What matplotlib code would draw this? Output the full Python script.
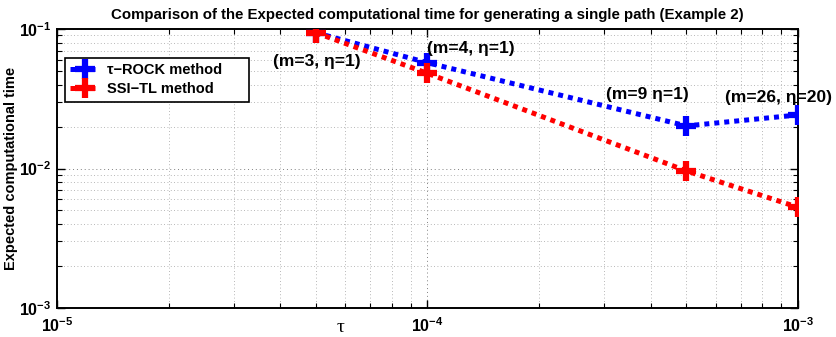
import matplotlib
matplotlib.use("Agg")
import matplotlib.pyplot as plt
from matplotlib.ticker import LogLocator, FuncFormatter, NullFormatter
from matplotlib.patches import Rectangle
import numpy as np

plt.rcParams['font.family'] = ['Liberation Sans', 'DejaVu Sans']
plt.rcParams['mathtext.fontset'] = 'custom'
plt.rcParams['mathtext.rm'] = 'Liberation Sans:bold'
plt.rcParams['mathtext.bf'] = 'Liberation Sans:bold'
plt.rcParams['mathtext.it'] = 'Liberation Sans:bold'

# Data
tau = [5e-5, 1e-4, 5e-4, 1e-3]
rock_time = [0.094, 0.0573, 0.0202, 0.0242]
ssi_time = [0.094, 0.0481, 0.0096, 0.00527]
rock_labels = ['(m=3, \u03b7=1)', '(m=4, \u03b7=1)', '(m=9 \u03b7=1)', '(m=26, \u03b7=20)']
series_names = ['\u03c4\u2212ROCK method', 'SSI\u2212TL method']
title = 'Comparison of the Expected computational time for generating a single path (Example 2)'
xlabel = '\u03c4'
ylabel = 'Expected computational time'

# Styling
label_offsets = [(-43, -29), (0, 14), (-80, 31), (-73, 17)]  # pixels

fig = plt.figure(figsize=(8.37, 3.37), dpi=100)
ax = fig.add_axes([0.0681, 0.0861, 0.9534 - 0.0681, 0.9139 - 0.0861])

common = dict(linestyle=(0, (1, 1)), linewidth=3.6, dash_capstyle='butt',
              marker='+', markersize=14, markeredgewidth=4.5)
ax.plot(tau, rock_time, color='#0000ff', label=series_names[0], zorder=3, **common)
ax.plot(tau, ssi_time, color='#ff0000', label=series_names[1], zorder=4, **common)

ax.set_xscale('log')
ax.set_yscale('log')
ax.set_xlim(1e-5, 1e-3)
ax.set_ylim(1e-3, 1e-1)

fmt = FuncFormatter(lambda v, p: r'$\mathbf{10^{%d}}$' % int(round(np.log10(v))))
ax.xaxis.set_major_locator(LogLocator(base=10, numticks=10))
ax.yaxis.set_major_locator(LogLocator(base=10, numticks=10))
ax.xaxis.set_major_formatter(fmt)
ax.yaxis.set_major_formatter(fmt)
ax.xaxis.set_minor_formatter(NullFormatter())
ax.yaxis.set_minor_formatter(NullFormatter())

ax.tick_params(which='both', direction='in', top=True, right=True, labelsize=11.5)
ax.tick_params(which='major', length=6, width=1.0)
ax.tick_params(which='minor', length=3.5, width=0.8)
ax.tick_params(axis='x', which='major', pad=6)
ax.tick_params(axis='y', which='major', pad=4)
for s in ax.spines.values():
    s.set_linewidth(1.4)

ax.grid(True, which='major', linestyle=(0, (1, 3)), color='#808080', linewidth=0.7)
ax.grid(True, which='minor', linestyle=(0, (1, 3)), color='#a0a0a0', linewidth=0.6)
ax.set_axisbelow(True)

ax.set_title(title, fontsize=10.8, fontweight='bold', pad=7)
ax.set_xlabel(xlabel, fontsize=14, family=['Liberation Serif', 'DejaVu Serif'])
ax.xaxis.set_label_coords(0.382, -0.04)
ax.xaxis.label.set_va('top')
ax.set_ylabel(ylabel, fontsize=10.5, fontweight='bold')
ax.yaxis.set_label_coords(-0.052, 0.5)

for xv, yv, txt, (dx, dy) in zip(tau, rock_time, rock_labels, label_offsets):
    ax.annotate(txt, (xv, yv), xytext=(dx, dy), textcoords='offset pixels',
                ha='left', va='center', fontsize=12.5, fontweight='bold',
                annotation_clip=False, zorder=5)

leg = ax.legend(loc='upper left', bbox_to_anchor=(0.011, 0.896), borderaxespad=0,
                prop={'weight': 'bold', 'size': 10.5}, frameon=False,
                handlelength=2.0, handletextpad=0.5,
                borderpad=0.35, labelspacing=0.35)
leg.set_zorder(6)
ax.add_patch(Rectangle((0.0108, 0.738), 0.259 - 0.0108, 0.896 - 0.738,
                       transform=ax.transAxes, facecolor='white', edgecolor='black',
                       linewidth=1.2, zorder=5.5))

fig.savefig('out.png', dpi=100)
